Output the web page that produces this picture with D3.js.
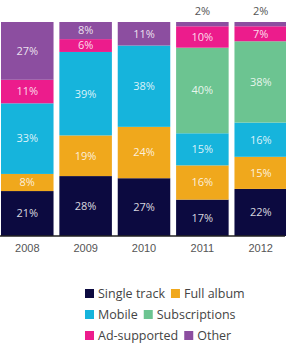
<!DOCTYPE html>
<html>
<head>
<meta charset="utf-8">
<script src="https://cdn.jsdelivr.net/npm/d3@7"></script>
<style>
  body { margin: 0; background: #fff; }
  svg { display: block; font-family: "Open Sans", "Noto Sans", sans-serif; }
</style>
</head>
<body>
<div id="chart"></div>
<script>
var years = ["2008", "2009", "2010", "2011", "2012"];
var seriesNames = ["Single track", "Full album", "Mobile", "Subscriptions", "Ad-supported", "Other"];
var seriesColors = ["#0c0a40", "#f0a81c", "#16b4dc", "#6cc491", "#ec1c8c", "#8c4ea0"];

// percent shares, one array per series, in year order
var singleTrack  = [21, 28, 27, 17, 22];
var fullAlbum    = [8, 19, 24, 16, 15];
var mobile       = [33, 39, 38, 15, 16];
var subscriptions = [0, 0, 0, 40, 38];
var adSupported  = [11, 6, 0, 10, 7];
var other        = [27, 8, 11, 2, 2];

var seriesValues = [singleTrack, fullAlbum, mobile, subscriptions, adSupported, other];

var width = 286, height = 343
  , margin = {top: 22, left: 1, right: 0, bottom: 107};

var rows = years.map(function(y, i){
  var r = {year: y};
  seriesNames.forEach(function(s, j){ r[s] = seriesValues[j][i]; });
  return r;
});

var stacked = d3.stack().keys(seriesNames)(rows);

var svg = d3.select("#chart").append("svg")
  .attr("width", width)
  .attr("height", height);

var x = d3.scaleBand()
  .domain(years)
  .range([margin.left, 287])
  .paddingInner(0.1)
  .paddingOuter(0);

var yScale = d3.scaleLinear()
  .domain([0, 100])
  .range([236, margin.top]);

var color = d3.scaleOrdinal().domain(seriesNames).range(seriesColors);

var layers = svg.append("g").selectAll("g")
  .data(stacked)
  .enter().append("g")
  .attr("fill", function(d){ return color(d.key); });

layers.selectAll("rect")
  .data(function(d){ return d; })
  .enter().append("rect")
  .attr("x", function(d){ return x(d.data.year); })
  .attr("width", x.bandwidth())
  .attr("y", function(d){ return yScale(d[1]); })
  .attr("height", function(d){ return yScale(d[0]) - yScale(d[1]); });

// value labels
layers.selectAll("text")
  .data(function(d){ return d.filter(function(p){ return p[1] - p[0] > 0; }); })
  .enter().append("text")
  .attr("x", function(d){ return x(d.data.year) + x.bandwidth()/2; })
  .attr("y", function(d){
    var v = d[1] - d[0];
    if (v < 4) return yScale(100) - 11; // tiny slice: label above bar
    return (yScale(d[0]) + yScale(d[1]))/2;
  })
  .attr("dy", "0.35em")
  .attr("text-anchor", "middle")
  .attr("font-size", 11)
  .attr("fill", function(d){ return (d[1]-d[0]) < 4 ? "#555" : "#fff"; })
  .attr("fill-opacity", function(d){ return (d[1]-d[0]) < 4 ? 1 : 0.85; })
  .text(function(d){ return (d[1] - d[0]) + "%"; });

// baseline axis
var xAxis = svg.append("g")
  .attr("transform", "translate(0,236)")
  .call(d3.axisBottom(x).tickSize(0).tickPadding(8));
xAxis.select(".domain").attr("stroke", "#222").attr("stroke-width", 1.3).attr("d", "M0,0H285");
xAxis.selectAll("text").attr("font-size", 11).attr("fill", "#555").attr("font-family", null);

// legend
var legendRows = [[0, 1], [2, 3], [4, 5]];
var legend = svg.append("g").attr("transform", "translate(85,0)");
legendRows.forEach(function(row, ri){
  var cx = 0, cy = 294 + ri*21;
  row.forEach(function(si){
    legend.append("rect")
      .attr("x", cx).attr("y", cy - 5)
      .attr("width", 9).attr("height", 9)
      .attr("fill", seriesColors[si]);
    var t = legend.append("text")
      .attr("x", cx + 13).attr("y", cy)
      .attr("dy", "0.35em")
      .attr("font-size", 12.5)
      .attr("fill", "#444")
      .text(seriesNames[si]);
    cx += 13 + t.node().getComputedTextLength() + 6;
  });
});
</script>
</body>
</html>
